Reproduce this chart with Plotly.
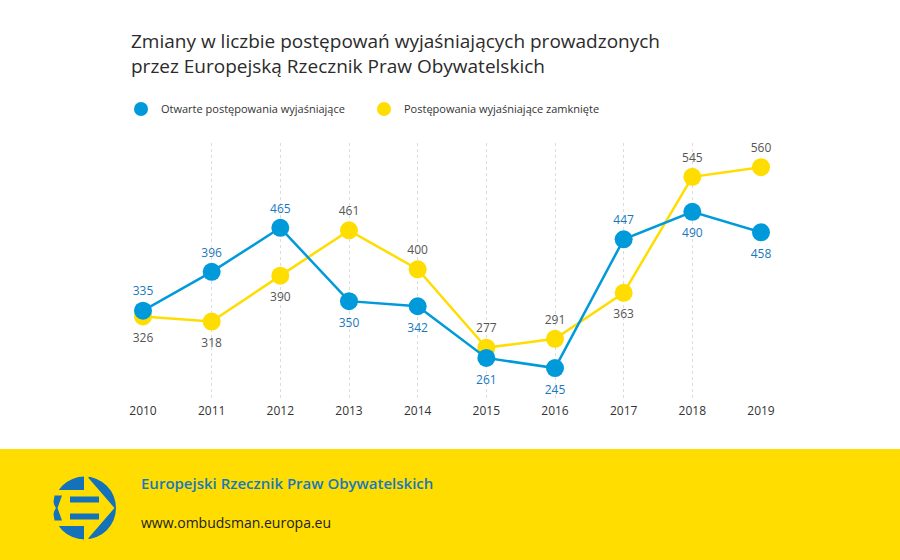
import plotly.graph_objects as go

years = [2010, 2011, 2012, 2013, 2014, 2015, 2016, 2017, 2018, 2019]
opened = [335, 396, 465, 350, 342, 261, 245, 447, 490, 458]
closed = [326, 318, 390, 461, 400, 277, 291, 363, 545, 560]
opened_pos = ["top center", "top center", "top center", "bottom center", "bottom center",
              "bottom center", "bottom center", "top center", "bottom center", "bottom center"]
closed_pos = ["bottom center", "bottom center", "bottom center", "top center", "top center",
              "top center", "top center", "bottom center", "top center", "top center"]
name_open = "Otwarte postępowania wyjaśniające"
name_closed = "Postępowania wyjaśniające zamknięte"
title_text = "Zmiany w liczbie postępowań wyjaśniających prowadzonych<br>przez Europejską Rzecznik Praw Obywatelskich"
footer_name = "Europejski Rzecznik Praw Obywatelskich"
footer_url = "www.ombudsman.europa.eu"

BLUE = "#009ADA"
BLUE_TXT = "#1878BE"
LOGO_BLUE = "#1372B9"
YELLOW = "#FFDD00"
GREY_TXT = "#555555"
FONT = "Open Sans"

W, H = 900, 560


def px(x):
    return x / W


def py(y):
    return 1 - y / H


def path(points):
    return "M " + " L ".join(f"{px(x):.5f},{py(y):.5f}" for x, y in points) + " Z"


def label_sizes(positions):
    # invisible marker size controls the label distance from the point
    return [18 if p.startswith("top") else 25 for p in positions]


fig = go.Figure()

for vals, pos, color, txtcolor, name in [
    (closed, closed_pos, YELLOW, GREY_TXT, name_closed),
    (opened, opened_pos, BLUE, BLUE_TXT, name_open),
]:
    fig.add_trace(go.Scatter(
        x=years, y=vals, mode="lines+markers", name=name, showlegend=False,
        line=dict(color=color, width=2.5), marker=dict(color=color, size=18),
        cliponaxis=False, hoverinfo="x+y"))
    fig.add_trace(go.Scatter(
        x=years, y=vals, mode="markers+text", name=name, showlegend=False,
        marker=dict(color=color, size=label_sizes(pos), opacity=0),
        text=[str(v) for v in vals], textposition=pos,
        textfont=dict(family=FONT, size=12, color=txtcolor), cliponaxis=False,
        hoverinfo="skip"))

# legend entries
fig.add_trace(go.Scatter(x=[None], y=[None], mode="markers", name=name_open,
                         marker=dict(color=BLUE, size=14)))
fig.add_trace(go.Scatter(x=[None], y=[None], mode="markers", name=name_closed,
                         marker=dict(color=YELLOW, size=14)))

shapes = []
# footer band
shapes.append(dict(type="rect", xref="paper", yref="paper", x0=0, x1=1, y0=0, y1=py(449),
                   fillcolor=YELLOW, line=dict(width=0), layer="below"))
# logo
cx, cy, R = 84.5, 508, 31.5
shapes.append(dict(type="circle", xref="paper", yref="paper",
                   x0=px(cx - R), x1=px(cx + R), y0=py(cy + R), y1=py(cy - R),
                   fillcolor=LOGO_BLUE, line=dict(width=0)))
# yellow cuts
shapes.append(dict(type="path", xref="paper", yref="paper", fillcolor=YELLOW, line=dict(width=0),
                   path=path([(84, 470), (88.5, 470), (88.5, 478), (114.5, 508), (88.5, 538),
                              (88.5, 546), (84, 546)])))
shapes.append(dict(type="rect", xref="paper", yref="paper", fillcolor=YELLOW, line=dict(width=0),
                   x0=px(45), x1=px(88), y0=py(526), y1=py(490)))
# bars
shapes.append(dict(type="rect", xref="paper", yref="paper", fillcolor=LOGO_BLUE, line=dict(width=0),
                   x0=px(70), x1=px(99), y0=py(502.5), y1=py(496.5)))
shapes.append(dict(type="rect", xref="paper", yref="paper", fillcolor=LOGO_BLUE, line=dict(width=0),
                   x0=px(70), x1=px(99), y0=py(519.5), y1=py(513.5)))
# left chevron
shapes.append(dict(type="path", xref="paper", yref="paper", fillcolor=LOGO_BLUE, line=dict(width=0),
                   path=path([(54.5, 495.5), (62, 495.5), (57.5, 508), (62, 520.5), (54.5, 520.5),
                              (53.5, 514), (55, 508), (53.5, 502)])))
shapes.append(dict(type="path", xref="paper", yref="paper", fillcolor=YELLOW, line=dict(width=0),
                   path=path([(51, 500), (56, 508), (51, 516)])))

annotations = [
    dict(text=title_text, xref="paper", yref="paper", x=px(129), y=py(26.5), xanchor="left",
         yanchor="top", align="left", showarrow=False,
         font=dict(family=FONT, size=19, color="#2b2b2b")),
    dict(text=footer_name, xref="paper", yref="paper", x=px(138.5), y=py(483), xanchor="left",
         yanchor="middle", showarrow=False,
         font=dict(family=FONT, size=15, color=BLUE_TXT, weight=600)),
    dict(text=footer_url, xref="paper", yref="paper", x=px(138.5), y=py(522), xanchor="left",
         yanchor="middle", showarrow=False,
         font=dict(family=FONT, size=14, color="#222222")),
]

fig.update_layout(
    width=W, height=H, margin=dict(l=0, r=0, t=0, b=0, autoexpand=False),
    paper_bgcolor="white", plot_bgcolor="white",
    font=dict(family=FONT, color="#333333"),
    shapes=shapes, annotations=annotations,
    showlegend=True,
    legend=dict(orientation="h", x=px(121), y=py(109), xanchor="left", yanchor="middle",
                font=dict(family=FONT, size=11, color="#333333"),
                entrywidth=198, entrywidthmode="pixels", itemwidth=30, bgcolor="rgba(0,0,0,0)"),
    xaxis=dict(domain=[px(143), px(761)], range=[2010, 2019], tickmode="array", tickvals=years,
               ticktext=[str(y) for y in years], showgrid=True, gridcolor="#dcdcdc",
               griddash="dot", gridwidth=1, zeroline=False, showline=False, ticks="",
               ticklabelstandoff=2,
               tickfont=dict(family=FONT, size=12, color="#333333"), fixedrange=True),
    yaxis=dict(domain=[py(400), py(143)], range=[195, 598], showgrid=False, zeroline=False,
               showline=False, showticklabels=False, ticks="", fixedrange=True),
)

fig.write_html("out.html")
